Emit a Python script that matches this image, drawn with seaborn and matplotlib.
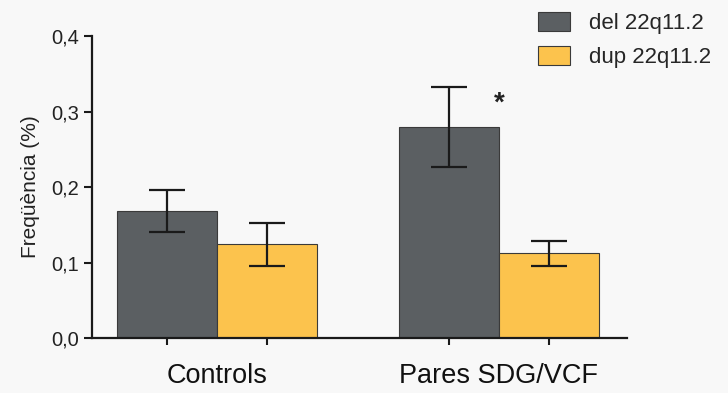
import pandas as pd
import matplotlib
matplotlib.use("Agg")
import matplotlib.pyplot as plt
import seaborn as sns

# Data
groups = ["Controls", "Pares SDG/VCF"]
series = ["del 22q11.2", "dup 22q11.2"]
del_mean = [0.168, 0.279]
del_err = [0.028, 0.053]
dup_mean = [0.124, 0.112]
dup_err = [0.029, 0.016]
colors = ["#5b5f62", "#fcc34d"]

df = pd.DataFrame({
    "group": groups * 2,
    "type": [series[0]] * 2 + [series[1]] * 2,
    "freq": del_mean + dup_mean,
    "err": del_err + dup_err,
})

sns.set_style("ticks")
plt.rcParams["font.family"] = ["Liberation Sans", "DejaVu Sans"]

fig = plt.figure(figsize=(7.28, 3.93), dpi=100, facecolor="#f8f8f8")
ax = fig.add_axes([0.1264, 0.140, 0.7346, 0.768])
ax.set_facecolor("#f8f8f8")

sns.barplot(data=df, x="group", y="freq", hue="type", hue_order=series,
            order=groups, palette=colors, width=0.71, errorbar=None,
            edgecolor="#3a3a3a", linewidth=0.8, saturation=1, ax=ax)

# error bars on top of the bars, matched by position
bar_x = []
for patch, (_, row) in zip(ax.patches, df.iterrows()):
    cx = patch.get_x() + patch.get_width() / 2
    bar_x.append(cx)
    ax.errorbar(cx, row["freq"], yerr=row["err"], color="#1a1a1a",
                lw=1.6, capsize=13, capthick=1.6, zorder=5)

# significance mark
ax.text(1.0, 0.311, "*", ha="center", va="center", fontsize=20,
        fontweight="bold", color="#222222")

ax.set_ylim(0, 0.4)
ax.set_xlim(-0.443, 1.454)
ax.set_yticks([0, 0.1, 0.2, 0.3, 0.4])
ax.set_yticklabels(["0,0", "0,1", "0,2", "0,3", "0,4"], fontsize=14.5,
                   color="#222222")
ax.set_xticks(bar_x, minor=True)
ax.set_xticks([0, 1])
ax.set_xticklabels(groups, fontsize=19.5, color="#111111")
ax.tick_params(axis="x", which="major", length=0, pad=18)
ax.tick_params(axis="x", which="minor", length=5, width=1.5, color="#1a1a1a")
ax.tick_params(axis="y", length=6, width=1.5, color="#1a1a1a")
ax.set_xlabel("")
ax.set_ylabel("Freqüència (%)", fontsize=15, color="#222222", labelpad=8)

for side in ["left", "bottom"]:
    ax.spines[side].set_linewidth(1.6)
    ax.spines[side].set_color("#1a1a1a")
sns.despine(ax=ax)

ax.legend(loc="upper left", bbox_to_anchor=(0.722, 1.0), bbox_transform=fig.transFigure,
          frameon=False, fontsize=16, handlelength=1.45, handleheight=0.95,
          labelspacing=0.5, handletextpad=0.85, borderaxespad=0.15)

fig.savefig("out.png", dpi=100, facecolor=fig.get_facecolor())
